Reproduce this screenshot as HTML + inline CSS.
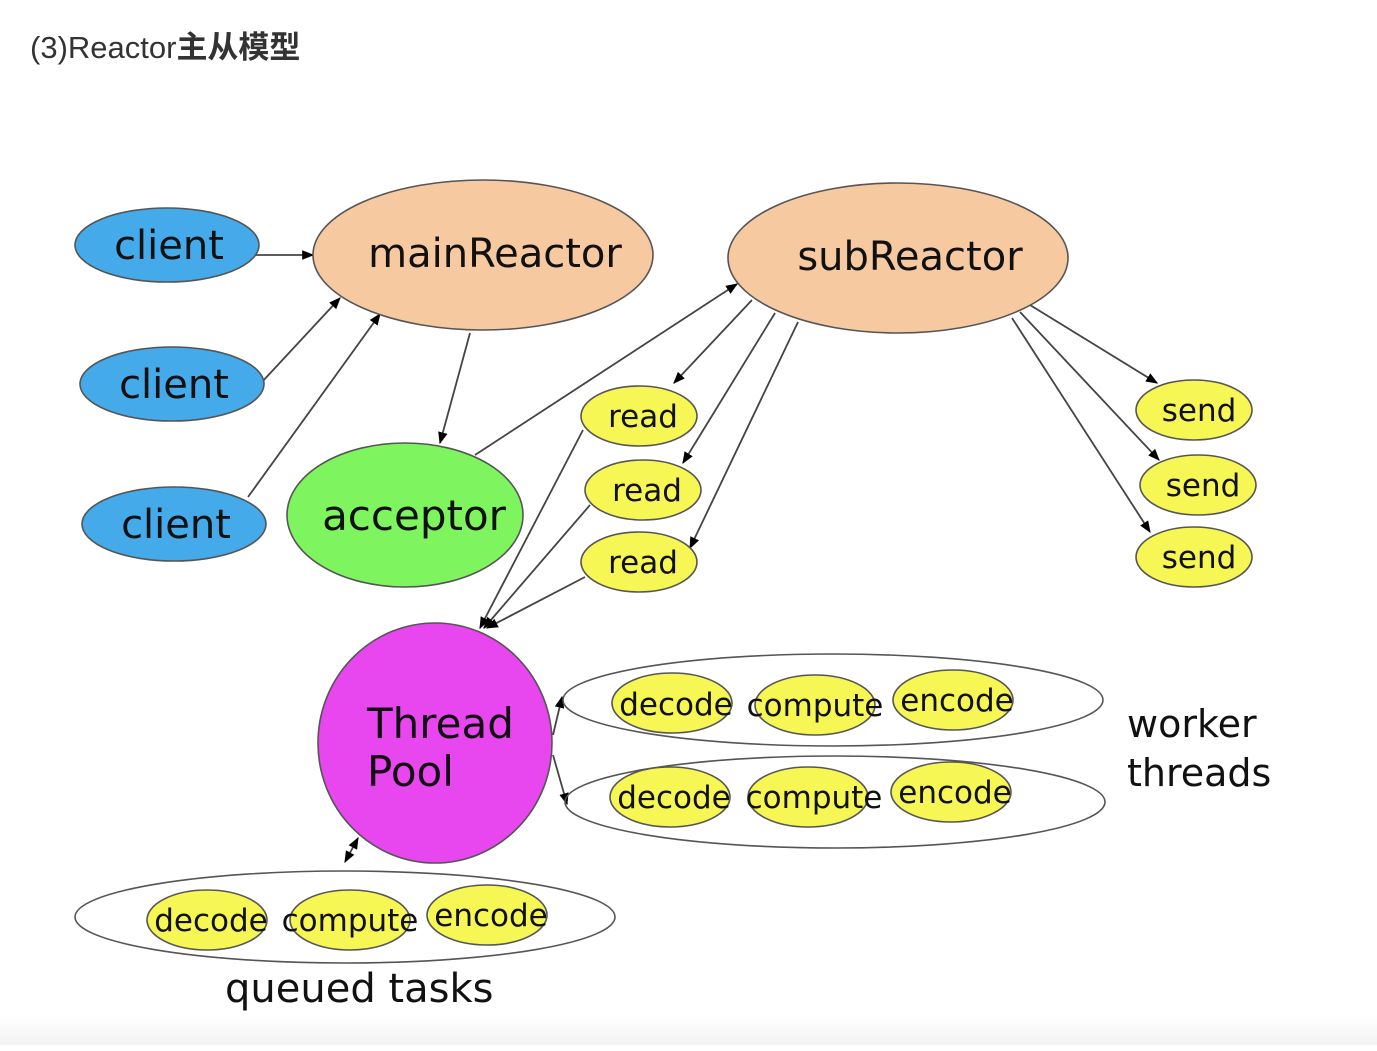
<!DOCTYPE html>
<html><head><meta charset="utf-8"><style>
html,body{margin:0;padding:0;width:1377px;height:1051px;background:#fff;overflow:hidden}
svg{position:absolute;left:0;top:0}
</style></head><body>
<svg width="1377" height="1051" xmlns="http://www.w3.org/2000/svg">
<defs>
<marker id="a" viewBox="0 0 10 10" refX="9" refY="5" markerWidth="12" markerHeight="12" orient="auto-start-reverse" markerUnits="userSpaceOnUse"><path d="M0,1 L10,5 L0,9 z" fill="#000"/></marker>
<linearGradient id="g" x1="0" y1="0" x2="0" y2="1"><stop offset="0" stop-color="#fff"/><stop offset="1" stop-color="#f3f3f3"/></linearGradient>
</defs>
<rect x="0" y="1015" width="1377" height="30" fill="url(#g)"/>
<text x="30" y="58" font-family="Liberation Sans, sans-serif" font-size="31" fill="#333">(3)Reactor<tspan font-family="Noto Sans CJK SC, sans-serif" font-weight="bold" font-size="31">主从模型</tspan></text>

<g stroke="#444" stroke-width="1.8" fill="none" marker-end="url(#a)">
<line x1="245" y1="255" x2="313" y2="255"/>
<line x1="262" y1="382" x2="340" y2="298"/>
<line x1="248" y1="497" x2="380" y2="314"/>
<line x1="470" y1="333" x2="440" y2="443"/>
<line x1="475" y1="455" x2="737" y2="284"/>
<line x1="752" y1="300" x2="674" y2="383"/>
<line x1="775" y1="313" x2="683" y2="463"/>
<line x1="798" y1="322" x2="690" y2="548"/>
<line x1="583" y1="430" x2="480" y2="628"/>
<line x1="590" y1="505" x2="484" y2="628"/>
<line x1="585" y1="577" x2="487" y2="628"/>
<line x1="1030" y1="305" x2="1157" y2="383"/>
<line x1="1020" y1="312" x2="1159" y2="460"/>
<line x1="1012" y1="318" x2="1150" y2="532"/>
<line x1="553" y1="735" x2="562" y2="697"/>
<line x1="553" y1="755" x2="567" y2="804"/>
<line x1="358" y1="838" x2="345" y2="862" marker-start="url(#a)"/>
</g>

<g stroke="#555" stroke-width="1.6">
<ellipse cx="167" cy="245" rx="92" ry="37" fill="#44aaea"/>
<ellipse cx="172" cy="384" rx="92" ry="37" fill="#44aaea"/>
<ellipse cx="174" cy="524" rx="92" ry="37" fill="#44aaea"/>
<ellipse cx="483" cy="255" rx="170" ry="75" fill="#f6c9a1"/>
<ellipse cx="898" cy="258" rx="170" ry="75" fill="#f6c9a1"/>
<ellipse cx="405" cy="515" rx="118" ry="72" fill="#7ef55f"/>
<ellipse cx="639" cy="416" rx="58" ry="30" fill="#f6f654"/>
<ellipse cx="643" cy="490" rx="58" ry="30" fill="#f6f654"/>
<ellipse cx="639" cy="562" rx="58" ry="30" fill="#f6f654"/>
<ellipse cx="1194" cy="410" rx="58" ry="30" fill="#f6f654"/>
<ellipse cx="1198" cy="485" rx="58" ry="30" fill="#f6f654"/>
<ellipse cx="1194" cy="557" rx="58" ry="30" fill="#f6f654"/>
<ellipse cx="435" cy="743" rx="117" ry="120" fill="#e846ef"/>
<ellipse cx="833" cy="700" rx="270" ry="46" fill="none"/>
<ellipse cx="835" cy="802" rx="270" ry="46" fill="none"/>
<ellipse cx="345" cy="917" rx="270" ry="46" fill="none"/>
<ellipse cx="672" cy="703" rx="60" ry="30" fill="#f6f654"/>
<ellipse cx="815" cy="705" rx="60" ry="30" fill="#f6f654"/>
<ellipse cx="953" cy="700" rx="60" ry="30" fill="#f6f654"/>
<ellipse cx="670" cy="797" rx="60" ry="30" fill="#f6f654"/>
<ellipse cx="808" cy="797" rx="60" ry="30" fill="#f6f654"/>
<ellipse cx="951" cy="792" rx="60" ry="30" fill="#f6f654"/>
<ellipse cx="207" cy="920" rx="60" ry="30" fill="#f6f654"/>
<ellipse cx="350" cy="920" rx="60" ry="30" fill="#f6f654"/>
<ellipse cx="487" cy="915" rx="60" ry="30" fill="#f6f654"/>
</g>

<g font-family="DejaVu Sans, Liberation Sans, sans-serif" fill="#111" text-anchor="middle">
<text x="169" y="259" font-size="40">client</text>
<text x="174" y="398" font-size="40">client</text>
<text x="176" y="538" font-size="40">client</text>
<text x="495" y="267" font-size="40">mainReactor</text>
<text x="910" y="270" font-size="40">subReactor</text>
<text x="414" y="530" font-size="42">acceptor</text>
<g font-size="31">
<text x="643" y="427">read</text><text x="647" y="501">read</text><text x="643" y="573">read</text>
<text x="1199" y="421">send</text><text x="1203" y="496">send</text><text x="1199" y="568">send</text>
<text x="676" y="715">decode</text><text x="815" y="716">compute</text><text x="957" y="711">encode</text>
<text x="674" y="808">decode</text><text x="814" y="808">compute</text><text x="955" y="803">encode</text>
<text x="211" y="931">decode</text><text x="350" y="931">compute</text><text x="491" y="926">encode</text>
</g>
</g>
<g font-family="DejaVu Sans, Liberation Sans, sans-serif" fill="#111">
<text x="367" y="738" font-size="42">Thread</text>
<text x="367" y="786" font-size="42">Pool</text>
<text x="1127" y="737" font-size="38">worker</text>
<text x="1127" y="786" font-size="38">threads</text>
<text x="225" y="1002" font-size="40">queued tasks</text>
</g>
</svg>
</body></html>
